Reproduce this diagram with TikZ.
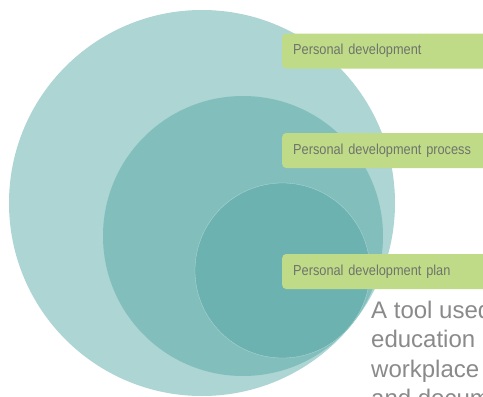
\documentclass[tikz,border=0pt]{standalone}
\usepackage{fontspec}
\setsansfont{Liberation Sans}
\newfontfamily\estrecha[FakeStretch=0.88]{Liberation Sans}
\usetikzlibrary{positioning}
\definecolor{aguaclaro}{HTML}{ADD5D4}
\definecolor{aguamedio}{HTML}{82BFBC}
\definecolor{aguaoscuro}{HTML}{6BB2B0}
\definecolor{lima}{HTML}{C0DB88}
\definecolor{grislabel}{HTML}{6E746C}
\definecolor{gristexto}{HTML}{8A8A8A}

\begin{document}
\begin{tikzpicture}[x=1pt, y=-1pt, font=\sffamily,
  circulo/.style={circle, inner sep=0pt, draw=none},
  caja/.style={fill=lima, rounded corners=4pt, anchor=west, minimum height=35pt,
    text width=229pt, inner xsep=11pt, align=left, text=grislabel,
    font=\estrecha\fontsize{14.5}{16}\selectfont}]
  \useasboundingbox (0,0) rectangle (483,397);
  \clip (0,0) rectangle (483,397);
  \fill[white] (0,0) rectangle (483,397);

  % Circulos concentricos
  \node[circulo, fill=aguaclaro, minimum size=386pt] (desarrollo) at (202,203) {};
  \node[circulo, fill=aguamedio, minimum size=280pt] (proceso) at (243,236) {};
  \node[circulo, fill=aguaoscuro, draw=aguamedio!60!white, line width=0.3pt,
    minimum size=175pt] (plan) at (282.5,270.5) {};

  % Etiquetas
  \node[caja] (cajadesarrollo) at (282,51) {Personal development};
  \node[caja] (cajaproceso) at (282,150.5) {Personal development process};
  \node[caja] (cajaplan) at (282,271.5) {Personal development plan};

  % Texto (la ultima linea queda cortada por el borde)
  \node[anchor=base west, inner sep=0pt, align=left, text=gristexto,
    font=\sffamily\fontsize{24}{29.5}\selectfont] (texto) at (371,406.5)
    {A tool used\\education\\workplace\\and documenting};
\end{tikzpicture}
\end{document}
